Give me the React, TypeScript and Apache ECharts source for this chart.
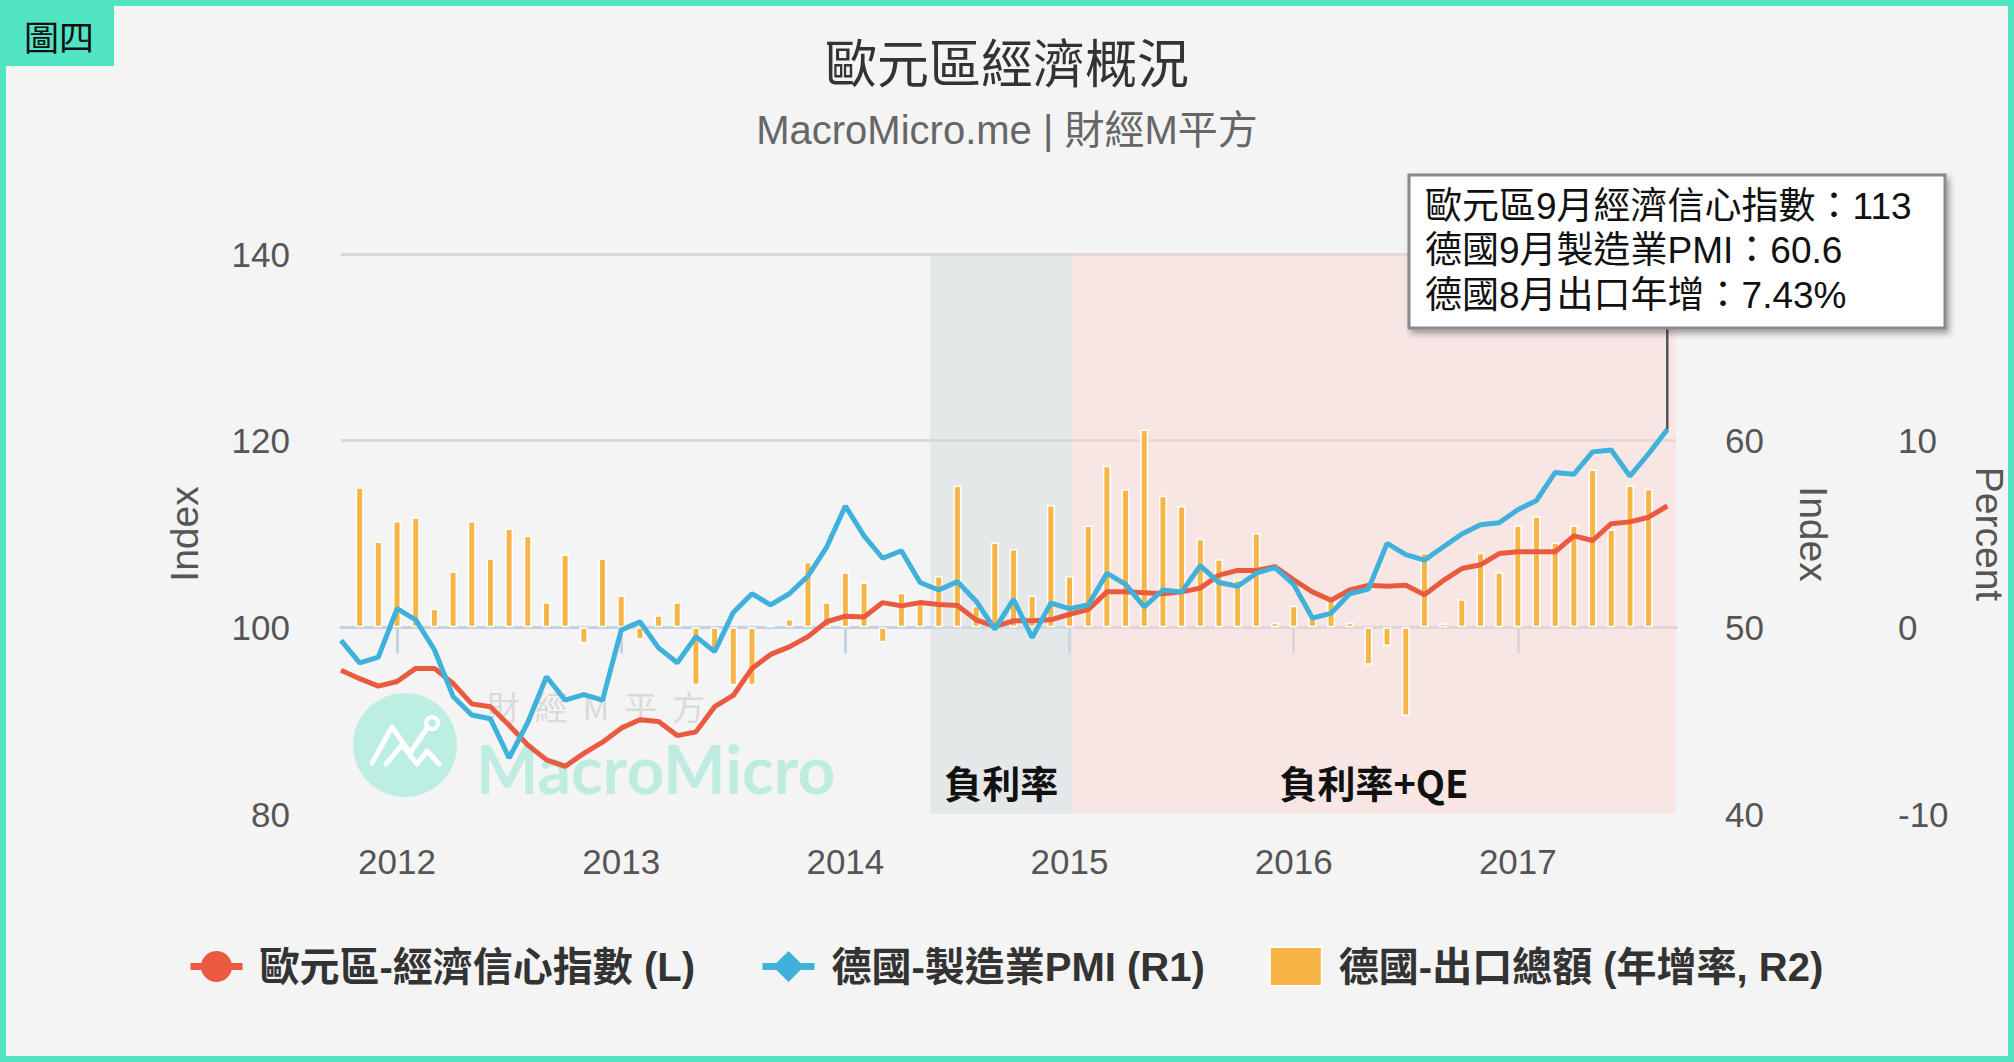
import React, { useEffect, useRef } from 'react';
import * as echarts from 'echarts';

// ---------- data ----------
const START_YEAR = 2011;
const START_MONTH = 10;
const MONTH_COUNT = 72; // 2011-10 .. 2017-09
const months: string[] = Array.from({ length: MONTH_COUNT }, (_, i) => {
  const m = START_MONTH - 1 + i;
  const y = START_YEAR + Math.floor(m / 12);
  const mm = (m % 12) + 1;
  return `${y}-${mm < 10 ? '0' + mm : mm}-01`;
});

// 歐元區 經濟信心指數 (L)
const sentiment: number[] = [
  95.4, 94.5, 93.7, 94.2, 95.6, 95.6, 94.0, 91.8, 91.5, 89.5, 87.4, 85.8,
  85.1, 86.5, 87.7, 89.2, 90.1, 89.9, 88.4, 88.8, 91.5, 92.7, 95.6, 97.1,
  97.9, 99.0, 100.6, 101.2, 101.1, 102.65, 102.3, 102.65, 102.45, 102.35, 100.8, 100.1,
  100.7, 100.7, 100.8, 101.4, 101.9, 103.8, 103.8, 103.7, 103.6, 103.8, 104.2, 105.6,
  106.1, 106.1, 106.5, 105.1, 103.8, 102.9, 104.0, 104.5, 104.4, 104.5, 103.5, 105.0,
  106.3, 106.7, 107.9, 108.1, 108.1, 108.1, 109.8, 109.3, 111.1, 111.3, 111.8, 113,
];

// 德國 製造業PMI (R1)
const pmi: number[] = [
  49.3, 48.1, 48.4, 51.0, 50.4, 48.8, 46.3, 45.3, 45.1, 43.0, 44.9, 47.35,
  46.1, 46.4, 46.1, 49.85, 50.3, 48.9, 48.1, 49.5, 48.7, 50.8, 51.8, 51.2,
  51.8, 52.75, 54.3, 56.5, 54.9, 53.7, 54.1, 52.4, 52.0, 52.45, 51.4, 49.9,
  51.5, 49.45, 51.3, 51.0, 51.2, 52.9, 52.3, 51.1, 52.0, 51.9, 53.3, 52.4,
  52.2, 52.9, 53.2, 52.3, 50.5, 50.75, 51.8, 52.05, 54.5, 53.9, 53.6, 54.3,
  55.0, 55.5, 55.6, 56.3, 56.8, 58.3, 58.2, 59.4, 59.5, 58.1, 59.3, 60.6,
];

// 德國 出口總額 年增率 % (R2)
const exportsYoY: (number | null)[] = [
  null, 7.5, 4.6, 5.7, 5.9, 1.0, 3.0, 5.7, 3.7, 5.3, 4.9, 1.35,
  3.9, -0.85, 3.7, 1.7, -0.65, 0.65, 1.35, -3.1, -1.4, -3.1, -3.1, 0.1,
  0.45, 3.5, 1.35, 2.95, 2.4, -0.8, 1.85, 1.3, 2.75, 7.6, 1.15, 4.55,
  4.2, 1.7, 6.55, 2.75, 5.45, 8.65, 7.4, 10.6, 7.05, 6.5, 4.75, 3.65,
  2.55, 5.05, 0.25, 1.15, 0.7, 1.45, 0.25, -2.0, -1.0, -4.75, 4.0, 0.2,
  1.5, 4.0, 2.95, 5.45, 5.95, 4.55, 5.45, 8.45, 5.25, 7.6, 7.43, null,
];

const yearTicks: string[] = ['2012-01-01', '2013-01-01', '2014-01-01', '2015-01-01', '2016-01-01', '2017-01-01'];
const xRange: string[] = ['2011-10-01', '2017-09-15'];
const bands = [
  { name: '負利率', from: '2014-05-18', to: '2015-01-05', color: 'rgba(212,219,221,0.5)' },
  { name: '負利率+QE', from: '2015-01-05', to: '2017-09-15', color: 'rgba(252,216,214,0.5)' },
];
const leftAxis = { min: 80, max: 140, interval: 20 };
const r1Axis = { min: 40, max: 70, interval: 10 };
const r2Axis = { min: -10, max: 20, interval: 10 };

const NAME_ESI = '歐元區-經濟信心指數 (L)';
const NAME_PMI = '德國-製造業PMI (R1)';
const NAME_EXP = '德國-出口總額 (年增率, R2)';

// ---------- style ----------
const FONT = "'Liberation Sans', 'Noto Sans CJK TC', sans-serif";
const CJK = "'Noto Sans CJK TC', sans-serif";
const TEAL = '#52e5c4';
const RED = '#ea5a41';
const BLUE = '#3fb1da';
const ORANGE = '#f7b545';
const AXIS_TEXT = '#555';

// month index on a continuous scale: 2012-01-01 -> 0
const BASE_YEAR = 2012;
const toMonthIndex = (s: string) => {
  const [y, m, d] = s.split('-').map(Number);
  const days = new Date(y, m, 0).getDate();
  return (y - BASE_YEAR) * 12 + (m - 1) + (d - 1) / days;
};
const fromMonthIndex = (v: number) => BASE_YEAR + Math.floor(v / 12);

export default function App() {
  const ref = useRef<HTMLDivElement>(null);

  useEffect(() => {
    if (!ref.current) return;
    const chart = echarts.init(ref.current, null, { renderer: 'svg' });

    const xs = months.map(toMonthIndex);
    const last = MONTH_COUNT - 1;
    let lastExpIdx = last;
    while (exportsYoY[lastExpIdx] == null) lastExpIdx--;
    const tickVals = yearTicks.map(toMonthIndex);

    const option: any = {
      animation: false,
      backgroundColor: '#f4f4f4',
      textStyle: { fontFamily: FONT },
      title: {
        text: '歐元區經濟概況',
        subtext: 'MacroMicro.me | 財經M平方',
        left: 'center',
        top: 29,
        itemGap: 24,
        textStyle: { fontSize: 52, color: '#333', fontWeight: 'normal', fontFamily: CJK },
        subtextStyle: { fontSize: 40, color: '#666', fontFamily: FONT },
      },
      grid: { left: 341, right: 338, top: 254, bottom: 248, outerBoundsMode: 'none', containLabel: false },
      legend: {
        left: 182,
        top: 941,
        itemWidth: 52,
        itemHeight: 39,
        itemGap: 64,
        lineStyle: { width: 7 },
        textStyle: {
          fontSize: 40,
          fontWeight: 'bold',
          color: '#333',
          fontFamily: FONT,
          padding: [0, 0, 0, 12],
        },
        data: [{ name: NAME_ESI }, { name: NAME_PMI }, { name: NAME_EXP, icon: 'rect' }],
      },
      xAxis: {
        type: 'value',
        min: toMonthIndex(xRange[0]),
        max: toMonthIndex(xRange[1]),
        axisLine: { lineStyle: { color: '#c4d2e2', width: 3 } },
        axisTick: {
          customValues: tickVals,
          length: 26,
          lineStyle: { color: '#c4d2e2', width: 3 },
        },
        axisLabel: {
          customValues: tickVals,
          formatter: (v: number) => String(fromMonthIndex(v)),
          fontSize: 35,
          color: AXIS_TEXT,
          margin: 30,
        },
        splitLine: { show: false },
      },
      yAxis: [
        {
          type: 'value',
          position: 'left',
          ...leftAxis,
          name: 'Index',
          nameLocation: 'middle',
          nameGap: 137,
          nameTextStyle: { fontSize: 39, color: AXIS_TEXT },
          axisLine: { show: false },
          axisTick: { show: false },
          axisLabel: { fontSize: 35, color: AXIS_TEXT, margin: 51 },
          splitLine: {
            show: true,
            lineStyle: { color: ['rgba(0,0,0,0)', 'rgba(0,0,0,0)', '#d8d8d8', '#d8d8d8'], width: 3 },
          },
        },
        {
          type: 'value',
          position: 'right',
          ...r1Axis,
          name: 'Index',
          nameLocation: 'middle',
          nameRotate: -90,
          nameGap: 118,
          nameTextStyle: { fontSize: 39, color: AXIS_TEXT },
          axisLine: { show: false },
          axisTick: { show: false },
          axisLabel: { fontSize: 35, color: AXIS_TEXT, margin: 49, showMaxLabel: false },
          splitLine: { show: false },
        },
        {
          type: 'value',
          position: 'right',
          offset: 173,
          ...r2Axis,
          name: 'Percent',
          nameLocation: 'middle',
          nameRotate: -90,
          nameGap: 121,
          nameTextStyle: { fontSize: 39, color: AXIS_TEXT },
          axisLine: { show: false },
          axisTick: { show: false },
          axisLabel: { fontSize: 35, color: AXIS_TEXT, margin: 49, showMaxLabel: false },
          splitLine: {
            show: true,
            lineStyle: {
              color: ['rgba(0,0,0,0)', '#d2d2d2', 'rgba(0,0,0,0)', 'rgba(0,0,0,0)'],
              width: 3,
              type: [9, 9],
            },
          },
        },
      ],
      series: [
        {
          name: NAME_EXP,
          type: 'bar',
          yAxisIndex: 2,
          barWidth: 8,
          data: xs.map((t, i) => [t, exportsYoY[i]]).filter((d) => d[1] != null),
          itemStyle: { color: ORANGE, borderColor: '#ffffff', borderWidth: 1.5 },
          markArea: {
            silent: true,
            label: {
              show: true,
              position: 'insideBottom',
              distance: 14,
              fontSize: 38,
              fontWeight: 'bold',
              color: '#111',
              fontFamily: CJK,
            },
            data: bands.map((b) => [
              { name: b.name, xAxis: toMonthIndex(b.from), itemStyle: { color: b.color } },
              { xAxis: toMonthIndex(b.to) },
            ]),
          },
        },
        {
          name: NAME_ESI,
          type: 'line',
          yAxisIndex: 0,
          symbol: 'circle',
          showSymbol: false,
          data: xs.map((t, i) => [t, sentiment[i]]),
          lineStyle: { color: RED, width: 5 },
          itemStyle: { color: RED },
        },
        {
          name: NAME_PMI,
          type: 'line',
          yAxisIndex: 1,
          symbol: 'diamond',
          showSymbol: false,
          data: xs.map((t, i) => [t, pmi[i]]),
          lineStyle: { color: BLUE, width: 5 },
          itemStyle: { color: BLUE },
        },
      ],
    };

    chart.setOption(option);

    const pt = chart.convertToPixel({ xAxisIndex: 0, yAxisIndex: 1 } as any, [xs[last], pmi[last]]) as number[];
    const monthLabel = (s: string) => Number(s.split('-')[1]);
    const box = { x: 1409, y: 175, w: 536, h: 153 };
    const tipText = [
      `歐元區${monthLabel(months[last])}月經濟信心指數：${sentiment[last]}`,
      `德國${monthLabel(months[last])}月製造業PMI：${pmi[last]}`,
      `德國${monthLabel(months[lastExpIdx])}月出口年增：${exportsYoY[lastExpIdx]}%`,
    ].join('\n');

    chart.setOption({
      graphic: [
        // badge
        { type: 'rect', z: 50, shape: { x: 0, y: 0, width: 114, height: 66 }, style: { fill: TEAL } },
        {
          type: 'text', z: 51, x: 24, y: 35,
          style: { text: '圖四', fontSize: 35, fontFamily: CJK, fill: '#111', verticalAlign: 'middle' },
        },
        // watermark
        { type: 'circle', z: 1, shape: { cx: 405, cy: 745, r: 52 }, style: { fill: '#bdeee2' } },
        {
          type: 'polyline', z: 1,
          shape: { points: [[372, 763], [392, 727], [410, 753], [428, 727]] },
          style: { stroke: '#ffffff', lineWidth: 5, fill: null, lineJoin: 'round', lineCap: 'round' },
        },
        {
          type: 'polyline', z: 1,
          shape: { points: [[386, 764], [402, 745], [417, 764], [427, 751], [439, 764]] },
          style: { stroke: '#ffffff', lineWidth: 5, fill: null, lineJoin: 'round', lineCap: 'round' },
        },
        { type: 'circle', z: 1, shape: { cx: 432, cy: 723, r: 6 }, style: { fill: '#bdeee2', stroke: '#ffffff', lineWidth: 4 } },
        {
          type: 'text', z: 1, x: 487, y: 706,
          style: { text: '財  經  M  平  方', fontSize: 33, fontFamily: CJK, fill: '#dadada', verticalAlign: 'middle' },
        },
        {
          type: 'text', z: 1, x: 476, y: 768,
          style: { text: 'MacroMicro', fontSize: 66, fontWeight: 'bold', fontFamily: "'Lato', sans-serif", fill: '#bfece1', verticalAlign: 'middle' },
        },
        // tooltip-like annotation
        {
          type: 'line', z: 99,
          shape: { x1: pt[0], y1: box.y + box.h, x2: pt[0], y2: pt[1] },
          style: { stroke: '#555', lineWidth: 2.5 },
        },
        {
          type: 'rect', z: 100,
          shape: { x: box.x, y: box.y, width: box.w, height: box.h },
          style: {
            fill: '#ffffff', stroke: '#8a8a8a', lineWidth: 3,
            shadowBlur: 6, shadowOffsetX: 3, shadowOffsetY: 4, shadowColor: 'rgba(0,0,0,0.35)',
          },
        },
        {
          type: 'text', z: 101, x: box.x + 16, y: box.y + 9,
          style: { text: tipText, fontSize: 37, lineHeight: 44.5, fontFamily: FONT, fill: '#111', verticalAlign: 'top' },
        },
      ],
    });

    return () => chart.dispose();
  }, []);

  return (
    <div style={{ position: 'absolute', left: 0, top: 0, width: 2014, height: 1062, background: '#f4f4f4' }}>
      <div ref={ref} style={{ position: 'absolute', left: 0, top: 0, width: 2014, height: 1062 }} />
      <div
        style={{
          position: 'absolute', left: 0, top: 0, width: 2014, height: 1062,
          border: `6px solid ${TEAL}`, boxSizing: 'border-box', pointerEvents: 'none',
        }}
      />
    </div>
  );
}
